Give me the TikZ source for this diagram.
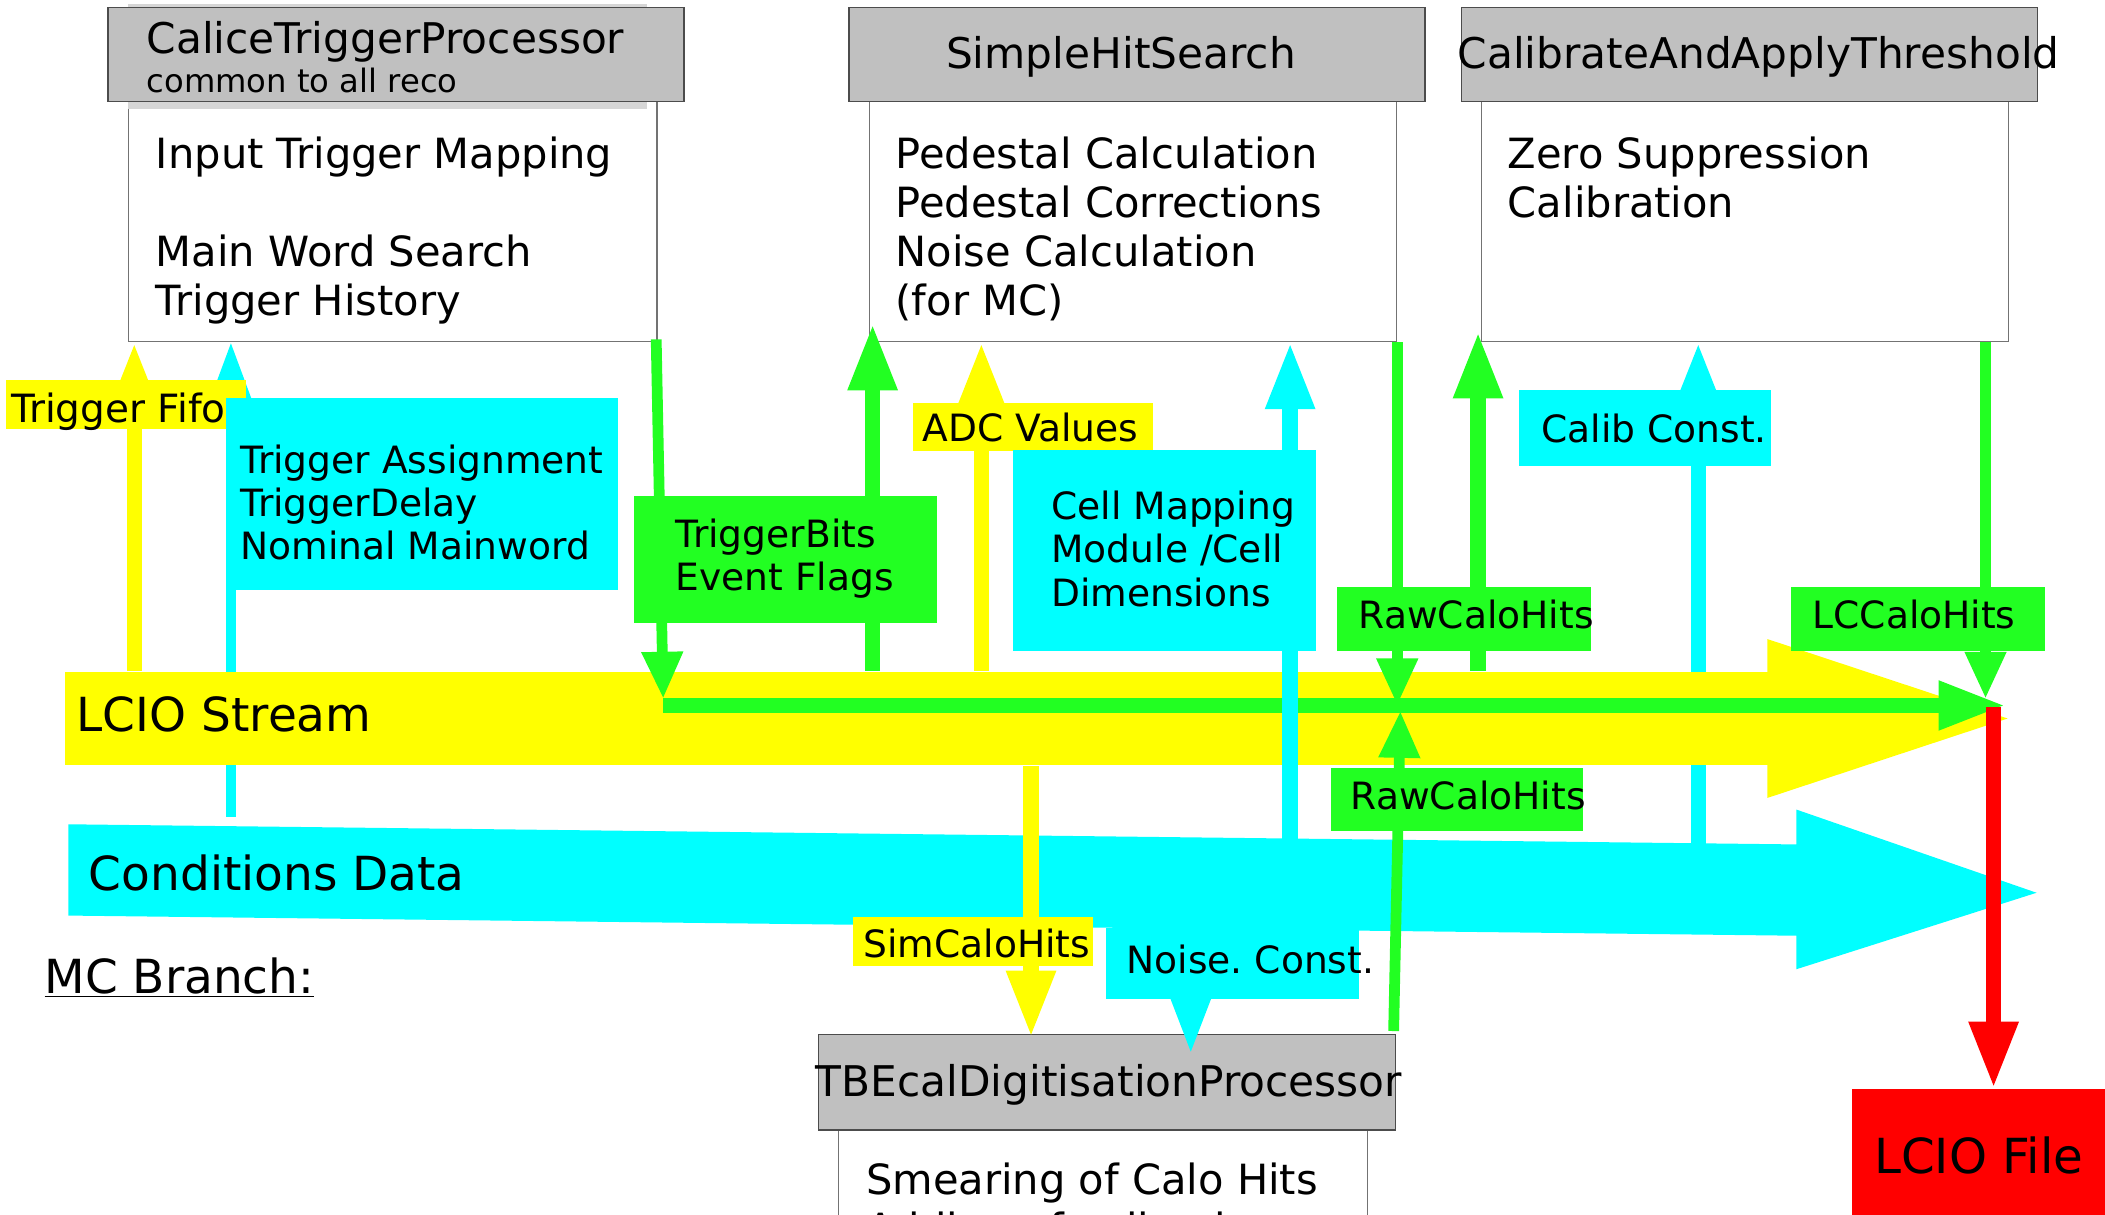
\documentclass[tikz,border=0pt]{standalone}
\usepackage{fontspec}
\setmainfont{DejaVu Sans}
\usepackage{tikz}
\usetikzlibrary{arrows.meta,positioning,calc,backgrounds}
\definecolor{procgray}{RGB}{192,192,192}
\definecolor{shadegray}{RGB}{214,214,214}
\definecolor{lineyellow}{RGB}{255,255,0}
\definecolor{linecyan}{RGB}{0,255,255}
\definecolor{linegreen}{RGB}{34,255,34}
\definecolor{linered}{RGB}{255,0,0}
\tikzset{
  headbox/.style={draw=black!70, line width=1.1pt, fill=procgray, inner sep=0pt, anchor=north west},
  bodybox/.style={draw=black!55, line width=0.8pt, fill=white, inner sep=0pt, anchor=north west},
  headtext/.style={inner sep=0pt, font=\fontsize{31.5}{36.3}\selectfont},
  notetext/.style={inner sep=0pt, anchor=base west, font=\fontsize{24}{28}\selectfont},
  bodytext/.style={inner sep=0pt, anchor=base west, align=left, font=\fontsize{31}{36.3}\selectfont},
  ybox/.style={fill=lineyellow, inner sep=0pt, anchor=north west},
  cbox/.style={fill=linecyan, inner sep=0pt, anchor=north west},
  gbox/.style={fill=linegreen, inner sep=0pt, anchor=north west},
  lbltext/.style={inner sep=0pt, anchor=base west, align=left, font=\fontsize{28}{32.3}\selectfont},
  bigtext/.style={inner sep=0pt, anchor=base west, font=\fontsize{35}{41}\selectfont},
  fatflow/.style={line width=11.5pt, -{Triangle[length=50pt, width=34pt]}},
  thinflow/.style={line width=8pt, -{Triangle[length=35pt, width=29pt]}},
  busflow/.style={line width=11pt, -{Triangle[length=50pt, width=34pt]}}
}

\begin{document}
\begin{tikzpicture}[x=1pt, y=-1pt]
\useasboundingbox (0,0) rectangle (1568,905);
\clip (0,0) rectangle (1568,905);

% processors
\node[bodybox, minimum width=394, minimum height=179] (ctpBody) at (95,75) {};
\fill[shadegray] (ctpBody.north west) rectangle ($(ctpBody.north east)+(-8,6)$);
\fill[shadegray] ($(ctpBody.north west)+(0,-72)$) rectangle ($(ctpBody.north east)+(-8,-69)$);
\node[headbox, minimum width=429, minimum height=70] (ctpHead) at (80,5) {};
\node[bodybox, minimum width=393, minimum height=179] (shsBody) at (647,75) {};
\node[headbox, minimum width=429, minimum height=70] (shsHead) at (632,5) {};
\node[bodybox, minimum width=393, minimum height=179] (caatBody) at (1103,75) {};
\node[headbox, minimum width=429, minimum height=70] (caatHead) at (1088,5) {};
\node[bodybox, minimum width=394, minimum height=179] (tbeBody) at (624,841) {};
\node[headbox, minimum width=430, minimum height=71] (tbeHead) at (609,770) {};

\node[headtext, anchor=base west] (ctpName) at (109,39.5) {CaliceTriggerProcessor};
\node[notetext] (ctpNote) at (109,69) {common to all reco};
\node[headtext, anchor=base] (shsName) at (835,51) {SimpleHitSearch};
\node[headtext, anchor=base] (caatName) at (1310,51) {CalibrateAndApplyThreshold};
\node[headtext, anchor=base] (tbeName) at (826,817) {TBEcalDigitisationProcessor};

% the base of a text over several lines is its last line
\node[bodytext] (ctpTasks) at (116,234.7) {Input Trigger Mapping\\[36.3pt]Main Word Search\\Trigger History};
\node[bodytext] (shsTasks) at (667,234.7) {Pedestal Calculation\\Pedestal Corrections\\Noise Calculation\\(for MC)};
\node[bodytext] (caatTasks) at (1123,162) {Zero Suppression\\Calibration};
\node[bodytext] (tbeTasks) at (645,926) {Smearing of Calo Hits\\Adding of cell noise};

% columns of the flows
\coordinate (fifoX) at (100,0);
\coordinate (assignX) at (172,0);
\coordinate (shsUpX) at (650,0);
\coordinate (adcX) at (731,0);
\coordinate (simX) at (768,0);
\coordinate (noiseX) at (887,0);
\coordinate (cellX) at (961,0);
\coordinate (calUpX) at (1101,0);
\coordinate (calibX) at (1265,0);
\coordinate (lcX) at (1479,0);
\coordinate (redX) at (1485,0);
\coordinate (busStart) at (494,525.5);
\coordinate (busEnd) at (1494,525.5);

% conditions data
\fill[linecyan] (51,614) -- (1338,629) -- (1338,603) -- (1517,665) -- (1338,722) -- (1338,697) -- (51,682) -- cycle;
\node[bigtext] (condTxt) at (66,663.5) {Conditions Data};

% LCIO stream
\node[fill=lineyellow, inner sep=0pt, anchor=north west, minimum width=1269, minimum height=70] (stream) at (48,500) {};
\fill[lineyellow] ($(stream.north east)+(-1,-24)$) -- ($(stream.east)+(178,0)$) -- ($(stream.south east)+(-1,24)$) -- cycle;
\node[bigtext] (streamTxt) at (57,545) {LCIO Stream};

\begin{scope}[on background layer]
  \draw[fatflow, linecyan] (calibX |- condTxt.base) -- (calibX |- caatBody.south);
  \draw[fatflow, line width=8pt, linecyan] ($(assignX |- stream.south)+(0,38)$) -- (assignX |- ctpBody.south);
\end{scope}

% inputs of the processors
\draw[fatflow, lineyellow] (fifoX |- stream.north) -- (fifoX |- ctpBody.south);
\draw[fatflow, linegreen] (shsUpX |- stream.north) -- ($(shsUpX |- shsBody.south)+(0,-14)$);
\draw[fatflow, lineyellow] (adcX |- stream.north) -- (adcX |- shsBody.south);
\draw[fatflow, linegreen] (calUpX |- stream.north) -- ($(calUpX |- caatBody.south)+(0,-8)$);

% collections put back
\draw[busflow, linegreen] (busStart) -- (busEnd);
\draw[thinflow, linegreen] ($(ctpBody.south east)+(-1,-2)$) -- ($(busStart)+(0,-5)$);
\draw[thinflow, linegreen] (shsBody.south east) -- (shsBody.south east |- busStart);
\draw[thinflow, linegreen] ($(tbeHead.north east)+(-2,-2)$) -- ($(tbeHead.north east |- busStart)+(3,4)$);
\draw[thinflow, linegreen] (lcX |- caatBody.south) -- ($(lcX |- busStart)+(0,-5)$);

\draw[fatflow, linecyan] (cellX |- condTxt.base) -- (cellX |- shsBody.south);
\draw[fatflow, lineyellow] (simX |- stream.south) -- ($(simX |- tbeHead.north)+(0,3)$);
\draw[fatflow, line width=10pt, linecyan] (noiseX |- condTxt.base) -- ($(noiseX |- tbeHead.north)+(0,15)$);

% output file
\node[fill=linered, inner sep=0pt, anchor=north west, minimum width=200, minimum height=100] (fileBox) at (1379,811) {};
\draw[fatflow, linered] ($(redX |- busEnd)+(0,1)$) -- (redX |- fileBox.north);
\node[bigtext, anchor=base, font=\fontsize{36}{42}\selectfont] (fileTxt) at (1474,874) {LCIO File};

% labels
\node[ybox, minimum width=179, minimum height=36] (fifoBox) at (4,283) {};
\node[lbltext, font=\fontsize{29}{33}\selectfont] (fifoTxt) at (8,315) {Trigger Fifo};
\node[cbox, minimum width=292, minimum height=143] (assignBox) at (168,296) {};
\node[lbltext] (assignTxt) at (179,417) {Trigger Assignment\\TriggerDelay\\Nominal Mainword};
\node[gbox, minimum width=226, minimum height=95] (bitsBox) at (472,369) {};
\node[lbltext] (bitsTxt) at (503,440) {TriggerBits\\Event Flags};
\node[ybox, minimum width=179, minimum height=36] (adcBox) at (680,300) {};
\node[lbltext] (adcTxt) at (687,329) {ADC Values};
\node[cbox, minimum width=226, minimum height=150] (cellBox) at (754,335) {};
\node[lbltext] (cellTxt) at (783,451.5) {Cell Mapping\\Module /Cell\\Dimensions};
\node[gbox, minimum width=189, minimum height=48] (rawUpBox) at (996,437) {};
\node[lbltext] (rawUpTxt) at (1012,468) {RawCaloHits};
\node[cbox, minimum width=188, minimum height=57] (calibBox) at (1131,290) {};
\node[lbltext] (calibTxt) at (1148,329.7) {Calib Const.};
\node[gbox, minimum width=189, minimum height=48] (lcBox) at (1334,437) {};
\node[lbltext] (lcTxt) at (1350,468) {LCCaloHits};
\node[gbox, minimum width=188, minimum height=47] (rawLowBox) at (991,572) {};
\node[lbltext] (rawLowTxt) at (1006,603) {RawCaloHits};
\node[ybox, minimum width=179, minimum height=36] (simBox) at (635,683) {};
\node[lbltext] (simTxt) at (643,713) {SimCaloHits};
\node[cbox, minimum width=188, minimum height=53] (noiseBox) at (824,691) {};
\node[lbltext] (noiseTxt) at (839,725) {Noise.\ Const.};

\node[bigtext] (mcTxt) at (33,740) {\underline{MC Branch:}};
\end{tikzpicture}
\end{document}
